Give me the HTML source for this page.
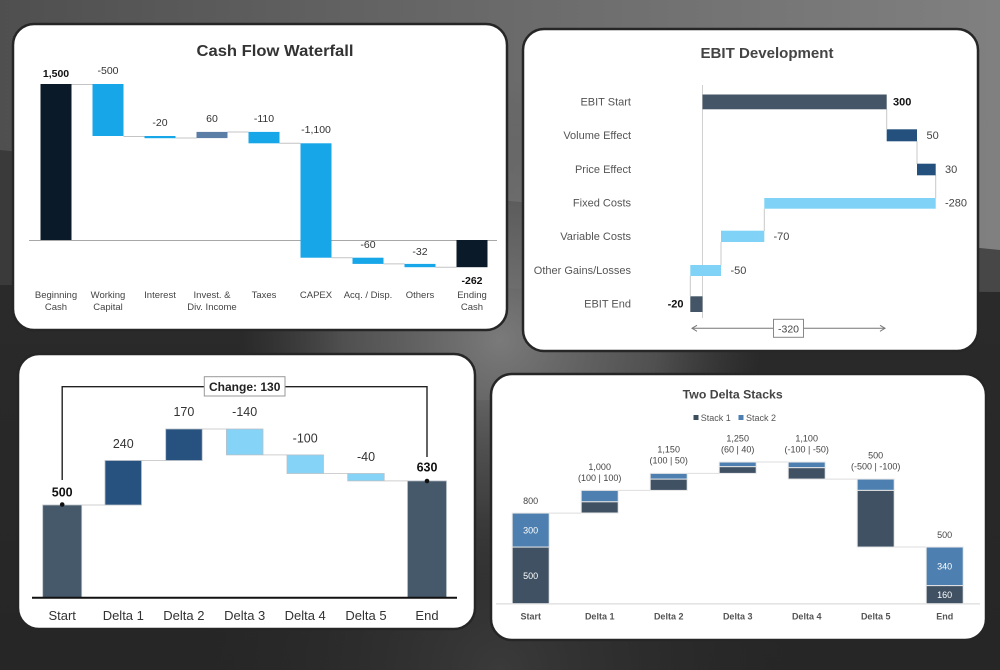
<!DOCTYPE html>
<html>
<head>
<meta charset="utf-8">
<style>
html,body{margin:0;padding:0;background:#333;}
svg{display:block;}
text{font-family:"Liberation Sans",Arial,sans-serif;}
</style>
</head>
<body>
<svg width="1000" height="670" viewBox="0 0 1000 670" xmlns="http://www.w3.org/2000/svg">
<defs>
  <linearGradient id="bgTop" x1="0" y1="0" x2="1" y2="0">
    <stop offset="0" stop-color="#4f4f4f"/>
    <stop offset="0.5" stop-color="#6a6a6a"/>
    <stop offset="1" stop-color="#808080"/>
  </linearGradient>
  <linearGradient id="bgMid" x1="0" y1="0" x2="1" y2="0">
    <stop offset="0" stop-color="#3a3a3a"/>
    <stop offset="1" stop-color="#474747"/>
  </linearGradient>
  <linearGradient id="bgBot" x1="0" y1="0" x2="0" y2="1">
    <stop offset="0" stop-color="#2a2a2a"/>
    <stop offset="1" stop-color="#262626"/>
  </linearGradient>
  <radialGradient id="glow" cx="500" cy="340" r="260" gradientUnits="userSpaceOnUse">
    <stop offset="0" stop-color="#7a7a7a" stop-opacity="1"/>
    <stop offset="0.6" stop-color="#6a6a6a" stop-opacity="0.6"/>
    <stop offset="1" stop-color="#555" stop-opacity="0"/>
  </radialGradient>
  <radialGradient id="glow2" cx="500" cy="670" r="300" gradientUnits="userSpaceOnUse">
    <stop offset="0" stop-color="#3a3a3a" stop-opacity="1"/>
    <stop offset="1" stop-color="#2a2a2a" stop-opacity="0"/>
  </radialGradient>
</defs>

<!-- background -->
<rect x="0" y="0" width="1000" height="670" fill="url(#bgTop)"/>
<polygon points="0,150 1000,250 1000,670 0,670" fill="url(#bgMid)"/>
<polygon points="0,285 1000,292 1000,670 0,670" fill="url(#bgBot)"/>
<rect x="0" y="0" width="1000" height="670" fill="url(#glow)"/>
<rect x="0" y="400" width="1000" height="270" fill="url(#glow2)"/>

<!-- ============ Panel 1: Cash Flow Waterfall ============ -->
<rect x="13" y="24" width="494" height="306" rx="21" fill="#ffffff" stroke="#262626" stroke-width="2.5"/>
<text x="275" y="56" text-anchor="middle" font-size="15.5" font-weight="bold" fill="#333" textLength="157" lengthAdjust="spacingAndGlyphs">Cash Flow Waterfall</text>

<line x1="29" y1="240.5" x2="497" y2="240.5" stroke="#a8a8a8" stroke-width="1"/>
<g stroke="#c4c4c4" stroke-width="1">
  <line x1="71.5" y1="84.5" x2="92.5" y2="84.5"/>
  <line x1="123.5" y1="136.5" x2="144.5" y2="136.5"/>
  <line x1="175.5" y1="138" x2="196.5" y2="138"/>
  <line x1="227.5" y1="132" x2="248.5" y2="132"/>
  <line x1="279.5" y1="143.3" x2="300.5" y2="143.3"/>
  <line x1="331.5" y1="257.7" x2="352.5" y2="257.7"/>
  <line x1="383.5" y1="263.9" x2="404.5" y2="263.9"/>
  <line x1="435.5" y1="267.2" x2="456.5" y2="267.2"/>
</g>
<rect x="40.5" y="84" width="31" height="156" fill="#0b1a28"/>
<rect x="92.5" y="84" width="31" height="52" fill="#17a6e8"/>
<rect x="144.5" y="136" width="31" height="2.2" fill="#17a6e8"/>
<rect x="196.5" y="131.9" width="31" height="6.2" fill="#5b7ea6"/>
<rect x="248.5" y="131.9" width="31" height="11.4" fill="#17a6e8"/>
<rect x="300.5" y="143.3" width="31" height="114.4" fill="#17a6e8"/>
<rect x="352.5" y="257.7" width="31" height="6.2" fill="#17a6e8"/>
<rect x="404.5" y="263.9" width="31" height="3.3" fill="#17a6e8"/>
<rect x="456.5" y="240" width="31" height="27.2" fill="#0b1a28"/>

<g font-size="10.5" fill="#333" text-anchor="middle">
  <text x="56" y="77" font-weight="bold" fill="#111">1,500</text>
  <text x="108" y="74">-500</text>
  <text x="160" y="126">-20</text>
  <text x="212" y="122">60</text>
  <text x="264" y="122">-110</text>
  <text x="316" y="133">-1,100</text>
  <text x="368" y="248">-60</text>
  <text x="420" y="255">-32</text>
  <text x="472" y="284" font-weight="bold" fill="#111">-262</text>
</g>
<g font-size="9.5" fill="#444" text-anchor="middle">
  <text x="56" y="298">Beginning</text><text x="56" y="310">Cash</text>
  <text x="108" y="298">Working</text><text x="108" y="310">Capital</text>
  <text x="160" y="298">Interest</text>
  <text x="212" y="298">Invest. &amp;</text><text x="212" y="310">Div. Income</text>
  <text x="264" y="298">Taxes</text>
  <text x="316" y="298">CAPEX</text>
  <text x="368" y="298">Acq. / Disp.</text>
  <text x="420" y="298">Others</text>
  <text x="472" y="298">Ending</text><text x="472" y="310">Cash</text>
</g>

<!-- ============ Panel 2: EBIT Development ============ -->
<rect x="523" y="29" width="455" height="322" rx="21" fill="#ffffff" stroke="#262626" stroke-width="2.5"/>
<text x="767" y="58" text-anchor="middle" font-size="15" font-weight="bold" fill="#444" textLength="133" lengthAdjust="spacingAndGlyphs">EBIT Development</text>

<line x1="702.5" y1="85" x2="702.5" y2="318" stroke="#d0d0d0" stroke-width="1"/>
<g stroke="#c8c8c8" stroke-width="1">
  <line x1="886.7" y1="109" x2="886.7" y2="129"/>
  <line x1="917" y1="141" x2="917" y2="164"/>
  <line x1="935.7" y1="175" x2="935.7" y2="198"/>
  <line x1="764.3" y1="208.7" x2="764.3" y2="231"/>
  <line x1="721" y1="242" x2="721" y2="265"/>
  <line x1="690.3" y1="276" x2="690.3" y2="296"/>
</g>
<rect x="702.5" y="94.5" width="184.2" height="14.8" fill="#435566"/>
<rect x="886.7" y="129.3" width="30.3" height="12" fill="#24507e"/>
<rect x="917" y="163.7" width="18.7" height="11.6" fill="#24507e"/>
<rect x="764.3" y="198" width="171.4" height="10.7" fill="#80d2f6"/>
<rect x="721" y="230.7" width="43.3" height="11.3" fill="#80d2f6"/>
<rect x="690.3" y="265" width="30.7" height="11" fill="#80d2f6"/>
<rect x="690.3" y="296.3" width="12.2" height="15.7" fill="#435566"/>

<g font-size="11" fill="#555" text-anchor="end">
  <text x="631" y="105.5">EBIT Start</text>
  <text x="631" y="139">Volume Effect</text>
  <text x="631" y="173">Price Effect</text>
  <text x="631" y="206.5">Fixed Costs</text>
  <text x="631" y="240">Variable Costs</text>
  <text x="631" y="274">Other Gains/Losses</text>
  <text x="631" y="307.5">EBIT End</text>
</g>
<g font-size="11" fill="#444">
  <text x="893" y="105.5" font-weight="bold" fill="#111">300</text>
  <text x="926.5" y="139">50</text>
  <text x="945" y="173">30</text>
  <text x="945" y="206.5">-280</text>
  <text x="773.5" y="240">-70</text>
  <text x="730.5" y="274">-50</text>
  <text x="683.5" y="307.5" text-anchor="end" font-weight="bold" fill="#111">-20</text>
</g>
<line x1="692" y1="328.3" x2="885" y2="328.3" stroke="#777" stroke-width="1"/>
<polyline points="697,325.3 692,328.3 697,331.3" fill="none" stroke="#777" stroke-width="1"/>
<polyline points="880,325.3 885,328.3 880,331.3" fill="none" stroke="#777" stroke-width="1"/>
<rect x="773.5" y="319.3" width="30" height="18" fill="#fff" stroke="#888" stroke-width="1"/>
<text x="788.5" y="332.3" text-anchor="middle" font-size="10.5" fill="#444">-320</text>

<!-- ============ Panel 3: Change waterfall ============ -->
<rect x="18" y="354" width="457" height="275" rx="21" fill="#ffffff" stroke="#262626" stroke-width="2.5"/>

<g stroke="#cfcfcf" stroke-width="1">
  <line x1="81.7" y1="505" x2="105" y2="505"/>
  <line x1="141.5" y1="460.5" x2="165.7" y2="460.5"/>
  <line x1="202.2" y1="429" x2="226.4" y2="429"/>
  <line x1="263" y1="454.9" x2="287" y2="454.9"/>
  <line x1="323.5" y1="473.5" x2="347.7" y2="473.5"/>
  <line x1="384.2" y1="480.9" x2="407.5" y2="480.9"/>
</g>
<g stroke="#b8c0c8" stroke-width="0.8">
  <rect x="42.7" y="505" width="39" height="92.7" fill="#46596b"/>
  <rect x="105" y="460.5" width="36.5" height="44.5" fill="#27527f"/>
  <rect x="165.7" y="429" width="36.5" height="31.5" fill="#27527f"/>
  <rect x="226.4" y="429" width="36.6" height="25.9" fill="#85d3f7"/>
  <rect x="287" y="454.9" width="36.5" height="18.6" fill="#85d3f7"/>
  <rect x="347.7" y="473.5" width="36.5" height="7.4" fill="#85d3f7"/>
  <rect x="407.5" y="480.9" width="39" height="116.8" fill="#46596b"/>
</g>
<line x1="32" y1="597.8" x2="457" y2="597.8" stroke="#111" stroke-width="2"/>

<polyline points="62.2,480 62.2,386.7 427,386.7 427,457" fill="none" stroke="#222" stroke-width="1.4"/>
<rect x="204.3" y="376.7" width="80.7" height="19.3" fill="#fff" stroke="#999" stroke-width="1"/>
<text x="244.7" y="391" text-anchor="middle" font-size="12" font-weight="bold" fill="#222">Change: 130</text>

<circle cx="62.2" cy="504.5" r="2.3" fill="#111"/>
<circle cx="427" cy="481" r="2.3" fill="#111"/>

<g font-size="12.5" fill="#333" text-anchor="middle">
  <text x="62.2" y="496.5" font-weight="bold" fill="#111">500</text>
  <text x="123.3" y="448">240</text>
  <text x="183.9" y="416">170</text>
  <text x="244.7" y="416">-140</text>
  <text x="305.2" y="442.5">-100</text>
  <text x="366" y="461">-40</text>
  <text x="427" y="471.5" font-weight="bold" fill="#111">630</text>
</g>
<g font-size="13" fill="#333" text-anchor="middle">
  <text x="62.2" y="620">Start</text>
  <text x="123.3" y="620">Delta 1</text>
  <text x="183.9" y="620">Delta 2</text>
  <text x="244.7" y="620">Delta 3</text>
  <text x="305.2" y="620">Delta 4</text>
  <text x="366" y="620">Delta 5</text>
  <text x="427" y="620">End</text>
</g>

<!-- ============ Panel 4: Two Delta Stacks ============ -->
<rect x="491" y="374" width="495" height="266" rx="21" fill="#ffffff" stroke="#262626" stroke-width="2.5"/>
<text x="732.7" y="398.5" text-anchor="middle" font-size="12" font-weight="bold" fill="#444" textLength="100" lengthAdjust="spacingAndGlyphs">Two Delta Stacks</text>
<rect x="693.5" y="415" width="5" height="5" fill="#3c4d5c"/>
<text x="700.7" y="421" font-size="9" fill="#555">Stack 1</text>
<rect x="738.5" y="415" width="5" height="5" fill="#4d7fb0"/>
<text x="746" y="421" font-size="9" fill="#555">Stack 2</text>

<g stroke="#dedede" stroke-width="1">
  <line x1="549.3" y1="513.1" x2="581.2" y2="513.1"/>
  <line x1="618.2" y1="490.4" x2="650.2" y2="490.4"/>
  <line x1="687.2" y1="473.4" x2="719.2" y2="473.4"/>
  <line x1="756.2" y1="462" x2="788.2" y2="462"/>
  <line x1="825.2" y1="479.1" x2="857.2" y2="479.1"/>
  <line x1="894.2" y1="547" x2="926.2" y2="547"/>
</g>
<line x1="496" y1="603.9" x2="980" y2="603.9" stroke="#dcdcdc" stroke-width="1.2"/>

<g stroke="#e6e6e6" stroke-width="1">
  <rect x="512.2" y="547.05" width="37" height="56.65" fill="#3f5163"/>
  <rect x="512.2" y="513.1" width="37" height="33.95" fill="#4d7fb0"/>
  <rect x="581.2" y="501.7" width="37" height="11.3" fill="#3f5163"/>
  <rect x="581.2" y="490.4" width="37" height="11.3" fill="#4d7fb0"/>
  <rect x="650.2" y="479.07" width="37" height="11.33" fill="#3f5163"/>
  <rect x="650.2" y="473.4" width="37" height="5.67" fill="#4d7fb0"/>
  <rect x="719.2" y="466.6" width="37" height="6.8" fill="#3f5163"/>
  <rect x="719.2" y="462.05" width="37" height="4.55" fill="#4d7fb0"/>
  <rect x="788.2" y="462.05" width="37" height="5.65" fill="#4d7fb0"/>
  <rect x="788.2" y="467.7" width="37" height="11.37" fill="#3f5163"/>
  <rect x="857.2" y="479.07" width="37" height="11.33" fill="#4d7fb0"/>
  <rect x="857.2" y="490.4" width="37" height="56.65" fill="#3f5163"/>
  <rect x="926.2" y="585.57" width="37" height="18.13" fill="#3f5163"/>
  <rect x="926.2" y="547.05" width="37" height="38.52" fill="#4d7fb0"/>
</g>

<g font-size="9" fill="#444" text-anchor="middle">
  <text x="530.7" y="504">800</text>
  <text x="530.7" y="533.5" fill="#fff">300</text>
  <text x="530.7" y="579" fill="#fff">500</text>
  <text x="599.7" y="470">1,000</text>
  <text x="599.7" y="481">(100 | 100)</text>
  <text x="668.7" y="452.5">1,150</text>
  <text x="668.7" y="463.5">(100 | 50)</text>
  <text x="737.7" y="441.5">1,250</text>
  <text x="737.7" y="452.5">(60 | 40)</text>
  <text x="806.7" y="441.5">1,100</text>
  <text x="806.7" y="452.5">(-100 | -50)</text>
  <text x="875.7" y="458.5">500</text>
  <text x="875.7" y="469.5">(-500 | -100)</text>
  <text x="944.7" y="538">500</text>
  <text x="944.7" y="569.5" fill="#fff">340</text>
  <text x="944.7" y="598" fill="#fff">160</text>
</g>
<g font-size="9" font-weight="bold" fill="#555" text-anchor="middle">
  <text x="530.7" y="619.5">Start</text>
  <text x="599.7" y="619.5">Delta 1</text>
  <text x="668.7" y="619.5">Delta 2</text>
  <text x="737.7" y="619.5">Delta 3</text>
  <text x="806.7" y="619.5">Delta 4</text>
  <text x="875.7" y="619.5">Delta 5</text>
  <text x="944.7" y="619.5">End</text>
</g>
</svg>
</body>
</html>
